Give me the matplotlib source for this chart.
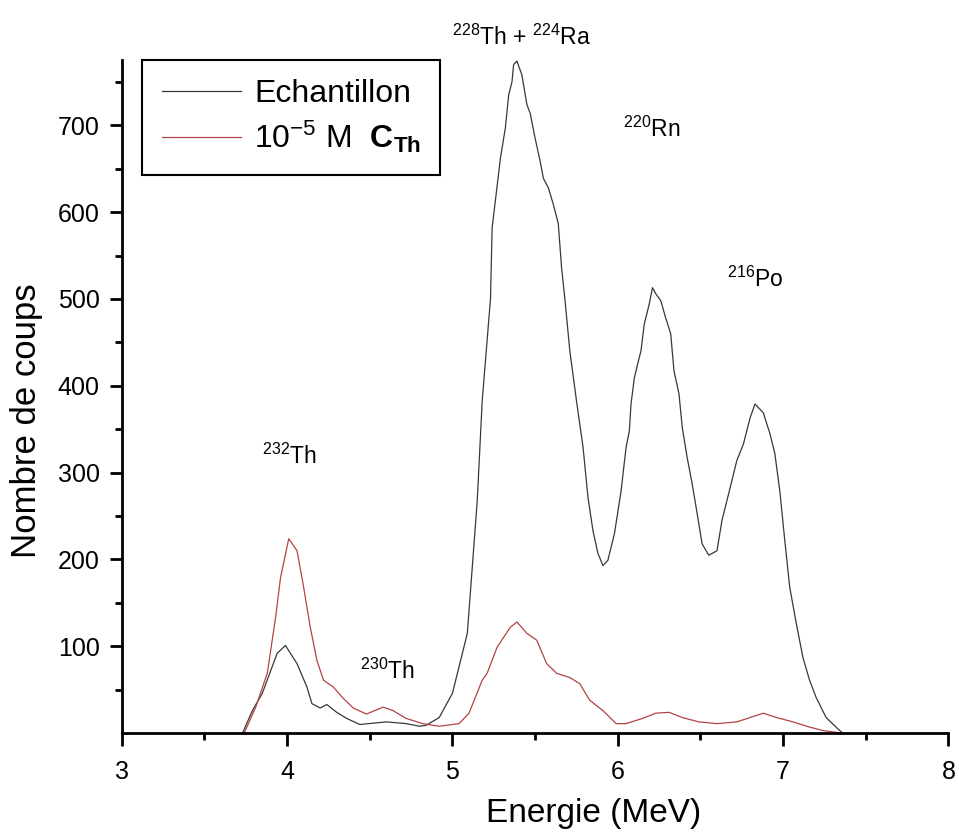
import matplotlib
matplotlib.use("Agg")
import matplotlib.pyplot as plt

plt.rcParams['font.family'] = ['Liberation Sans', 'DejaVu Sans']
plt.rcParams['mathtext.fontset'] = 'custom'
plt.rcParams['mathtext.rm'] = 'Liberation Sans'
plt.rcParams['mathtext.it'] = 'Liberation Sans:italic'
plt.rcParams['mathtext.bf'] = 'Liberation Sans:bold'

# Echantillon (black)
ech_x = [3.73, 3.79, 3.85, 3.94, 3.99, 4.06, 4.12, 4.15, 4.20, 4.24, 4.30, 4.36,
         4.44, 4.60, 4.72, 4.80, 4.84, 4.92, 5.00, 5.09, 5.15, 5.18, 5.23, 5.24,
         5.29, 5.32, 5.34, 5.36, 5.37, 5.39, 5.42, 5.45, 5.47, 5.50, 5.53, 5.55,
         5.58, 5.61, 5.64, 5.66, 5.68, 5.71, 5.75, 5.79, 5.82, 5.85, 5.88, 5.91,
         5.94, 5.98, 6.02, 6.05, 6.07, 6.08, 6.10, 6.12, 6.14, 6.16, 6.19, 6.21,
         6.23, 6.26, 6.29, 6.32, 6.34, 6.37, 6.39, 6.42, 6.45, 6.48, 6.51, 6.55,
         6.60, 6.63, 6.68, 6.72, 6.76, 6.80, 6.83, 6.88, 6.92, 6.95, 6.98, 7.01,
         7.04, 7.08, 7.12, 7.16, 7.20, 7.26, 7.32, 7.36]
ech_y = [0, 26, 46, 92, 101, 80, 53, 34, 29, 33, 24, 17,
         10, 13, 11, 8, 9, 18, 46, 115, 268, 383, 500, 582,
         662, 697, 735, 750, 770, 774, 758, 724, 714, 685, 659, 639,
         628, 609, 587, 536, 500, 440, 383, 329, 271, 233, 207, 193,
         199, 230, 279, 329, 348, 379, 409, 425, 440, 471, 494, 513,
         506, 498, 478, 460, 417, 391, 352, 317, 287, 253, 218, 205,
         210, 245, 283, 314, 333, 363, 379, 369, 345, 322, 279, 222,
         168, 126, 87, 61, 41, 18, 7, 0]

# 10^-5 M C_Th (red)
cth_x = [3.74, 3.81, 3.88, 3.93, 3.96, 4.01, 4.06, 4.10, 4.14, 4.18, 4.22, 4.28,
         4.34, 4.40, 4.48, 4.58, 4.64, 4.72, 4.82, 4.92, 5.00, 5.04, 5.10, 5.18,
         5.21, 5.27, 5.35, 5.39, 5.45, 5.51, 5.57, 5.63, 5.71, 5.77, 5.83, 5.91,
         5.99, 6.05, 6.15, 6.23, 6.31, 6.39, 6.49, 6.60, 6.72, 6.80, 6.88, 6.96,
         7.06, 7.16, 7.24, 7.36]
cth_y = [0, 30, 69, 133, 179, 224, 210, 168, 122, 84, 61, 53,
         40, 29, 22, 30, 26, 17, 11, 8, 10, 11, 23, 61,
         69, 99, 122, 128, 115, 107, 80, 69, 64, 57, 38, 26,
         11, 11, 17, 23, 24, 18, 13, 11, 13, 18, 23, 18,
         13, 7, 3, 0]

# peak labels
peak_labels = [r"$^{228}$Th + $^{224}$Ra", r"$^{220}$Rn", r"$^{216}$Po",
               r"$^{232}$Th", r"$^{230}$Th"]
peak_x = [5.0, 6.03, 6.66, 3.85, 4.44]
peak_y = [793, 687, 514, 310, 62]

fig = plt.figure(figsize=(9.59, 8.36), dpi=100)
ax = fig.add_axes([0.127, 0.123, 0.862, 0.805])

ax.plot(ech_x, ech_y, color="#383838", lw=0.9, label="Echantillon")
ax.plot(cth_x, cth_y, color="#b04444", lw=0.9,
        label=r"10$^{-5}$ M  $\mathbf{C}_{\mathbf{Th}}$")

for lab, px, py in zip(peak_labels, peak_x, peak_y):
    ax.text(px, py, lab, fontsize=16.5, ha="left", va="baseline", clip_on=False)

ax.set_xlim(3, 8)
ax.set_ylim(0, 775)
ax.set_xticks([3, 4, 5, 6, 7, 8])
ax.set_xticks([3.5, 4.5, 5.5, 6.5, 7.5], minor=True)
ax.set_yticks([100, 200, 300, 400, 500, 600, 700])
ax.set_yticks([50, 150, 250, 350, 450, 550, 650, 750], minor=True)

for s in ["top", "right"]:
    ax.spines[s].set_visible(False)
for s in ["left", "bottom"]:
    ax.spines[s].set_linewidth(2)
ax.tick_params(which="major", length=9, width=2, labelsize=18)
ax.tick_params(axis="x", which="major", pad=10)
ax.tick_params(axis="y", which="major", pad=7)
ax.tick_params(which="minor", length=5, width=2)

ax.set_xlabel("Energie (MeV)", fontsize=24)
ax.set_ylabel("Nombre de coups", fontsize=25)
ax.xaxis.set_label_coords(0.571, -0.097)
ax.yaxis.set_label_coords(-0.095, 0.465)

leg = ax.legend(loc="upper left", bbox_to_anchor=(0.025, 1.0), borderaxespad=0,
                fontsize=23, fancybox=False, framealpha=1, edgecolor="black",
                handlelength=2.5, handletextpad=0.4, labelspacing=0.3,
                borderpad=0.6)
leg.get_frame().set_linewidth(1.5)

fig.savefig("out.png", dpi=100)
